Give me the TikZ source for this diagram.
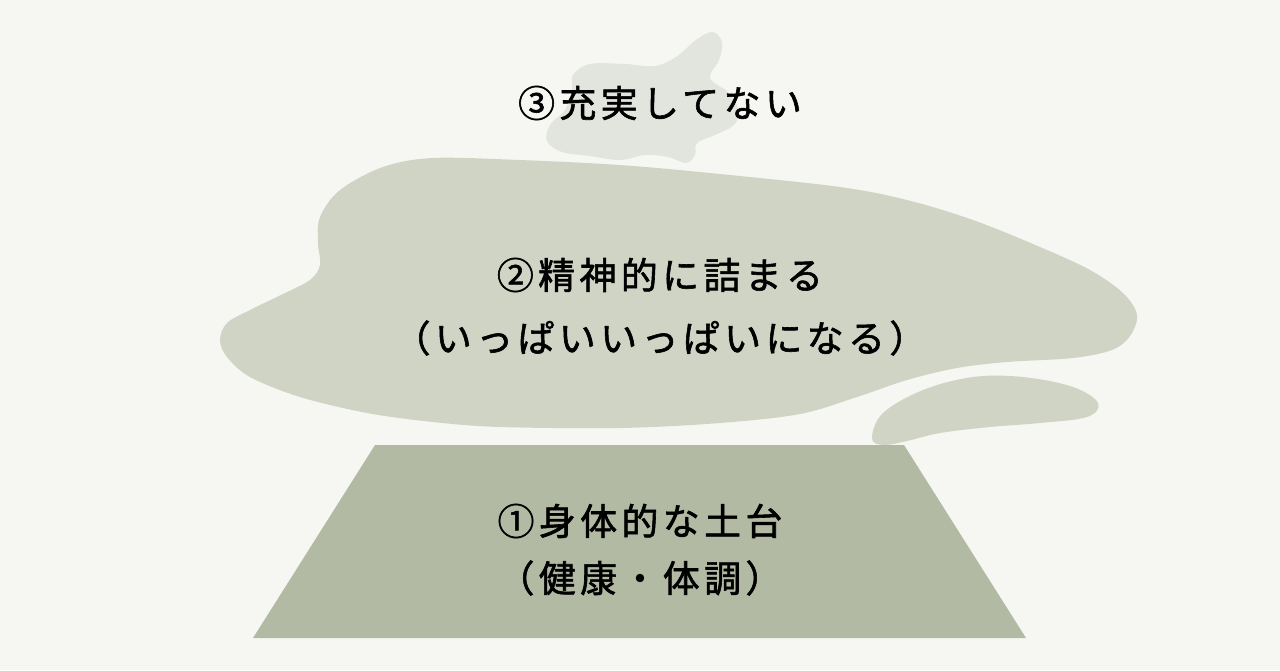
\documentclass[tikz,border=0pt]{standalone}
\usepackage{fontspec}
\usepackage{xcolor}
\usepackage{tikz}
\usetikzlibrary{calc}
\newfontfamily\jpfont{Noto Sans CJK JP}[LetterSpace=12, FakeBold=1.6]
\definecolor{paper}{HTML}{F6F7F2}
\definecolor{haze}{HTML}{E2E5DD}
\definecolor{cloudy}{HTML}{D0D4C5}
\definecolor{ground}{HTML}{B2BAA3}
\tikzset{layer text/.style={font=\jpfont\fontsize{21}{25}\selectfont, text=black, inner sep=0pt}}

\begin{document}
\begin{tikzpicture}[x=0.02cm, y=-0.02cm]
    % Fundo
    \fill[paper] (0,0) rectangle (1280,670);
    \useasboundingbox (0,0) rectangle (1280,670);

    % Mancha pequena
    \fill[haze] plot[smooth cycle, tension=0.6] coordinates {
        (712,32) (722,42) (719,60) (710,78) (728,92) (738,108) (735,124)
        (715,135) (697,143) (695,155) (686,163) (668,157) (645,155) (620,160)
        (590,156) (562,152) (547,141) (550,125) (565,110) (572,90) (573,75)
        (590,64) (625,64) (655,66) (676,57) (696,40)};

    % Base
    \fill[ground] (375,445) -- (904,445) -- (1026,638) -- (253,638) -- cycle;

    % Nuvem
    \fill[cloudy] plot[smooth cycle, tension=0.55] coordinates {
        (433,158) (520,160) (620,165) (720,174) (840,187) (907,200) (973,220)
        (1040,247) (1090,270) (1123,293) (1137,315) (1130,336) (1112,350)
        (1073,358) (1007,362) (957,368) (907,380) (857,397) (800,414)
        (720,423) (620,428) (500,427) (433,422) (367,413) (300,397) (250,377)
        (227,357) (220,340) (227,323) (250,310) (283,294) (310,280) (320,265)
        (318,243) (320,217) (340,190) (383,167)};
    \fill[cloudy] plot[smooth cycle, tension=0.6] coordinates {
        (872,438) (883,413) (923,390) (973,377) (1023,377) (1073,387)
        (1098,403) (1087,417) (1040,423) (990,427) (940,433) (907,441)
        (883,445)};

    % Textos
    \node[layer text] (top) at (660,103) {③充実してない};
    \node[layer text] (mind) at (660,275) {②精神的に詰まる};
    \node[layer text] (mindsub) at (660,338) {（いっぱいいっぱいになる）};
    \node[layer text] (body) at (640,521) {①身体的な土台};
    \node[layer text] (bodysub) at (640,578) {（健康・体調）};
\end{tikzpicture}
\end{document}
